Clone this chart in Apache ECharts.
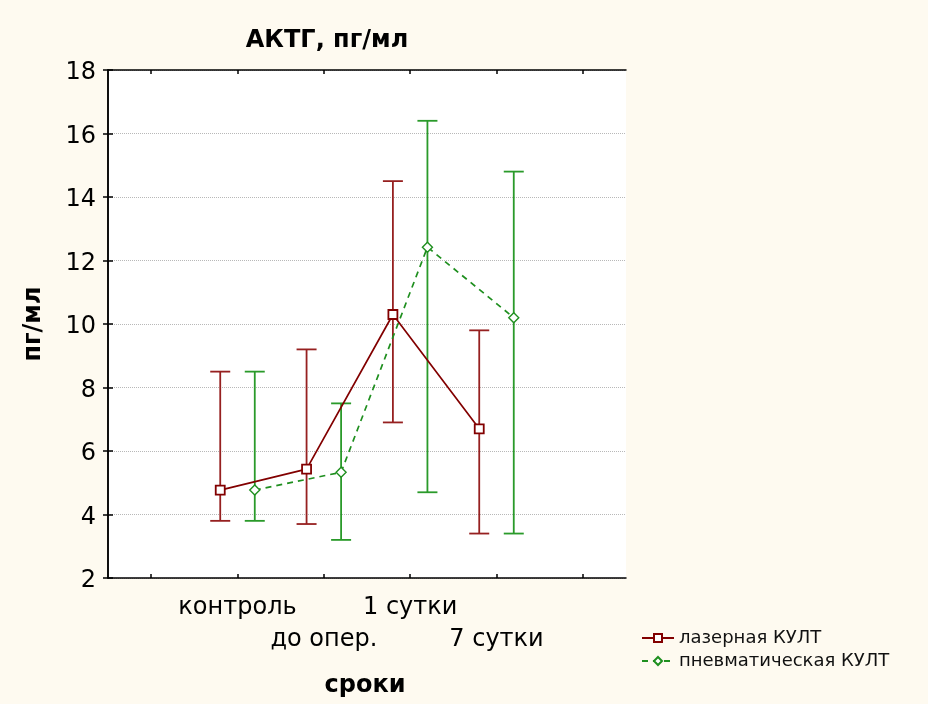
<!DOCTYPE html>
<html>
<head>
<meta charset="utf-8">
<style>
  html, body { margin: 0; padding: 0; background: #fefaf0; }
  #chart { width: 928px; height: 704px; }
</style>
<script src="https://cdn.jsdelivr.net/npm/echarts@6/dist/echarts.min.js"></script>
</head>
<body>
<div id="chart"></div>
<script>
// Time points of the study
const categories = ['контроль', 'до опер.', '1 сутки', '7 сутки'];

// Laser group: mean with lower / upper whisker
const laserMean = [4.77, 5.43, 10.3, 6.7];
const laserLow  = [3.8, 3.7, 6.9, 3.4];
const laserHigh = [8.5, 9.2, 14.5, 9.8];

// Pneumatic group: mean with lower / upper whisker
const pneuMean = [4.77, 5.33, 12.42, 10.2];
const pneuLow  = [3.8, 3.2, 4.7, 3.4];
const pneuHigh = [8.5, 7.5, 16.4, 14.8];

const yTicks = [2, 4, 6, 8, 10, 12, 14, 16, 18];

const seriesNames = ['лазерная КУЛТ', 'пневматическая КУЛТ'];
const RED = '#820000';
const GREEN = '#1f8f1f';
const FONT = '"DejaVu Sans", "Liberation Sans", Arial, sans-serif';

// x position of a category: slots sit at 1.5, 2.5, ... on a 0..6 axis,
// each group drawn slightly left or right of its slot
const SHIFT = 0.2;
const xPos = (i, side) => 1.5 + i + side * SHIFT;

function errorData(means, lows, highs, side) {
  return means.map((m, i) => [xPos(i, side), lows[i], highs[i]]);
}

function errorRenderer(color) {
  return function (params, api) {
    const x = api.value(0);
    const lo = api.coord([x, api.value(1)]);
    const hi = api.coord([x, api.value(2)]);
    const half = 10;
    const style = { stroke: color, lineWidth: 1.8 };
    return {
      type: 'group',
      children: [
        { type: 'line', shape: { x1: lo[0], y1: lo[1], x2: hi[0], y2: hi[1] }, style },
        { type: 'line', shape: { x1: hi[0] - half, y1: hi[1], x2: hi[0] + half, y2: hi[1] }, style },
        { type: 'line', shape: { x1: lo[0] - half, y1: lo[1], x2: lo[0] + half, y2: lo[1] }, style }
      ]
    };
  };
}

const tickPositions = [0.5, 1.5, 2.5, 3.5, 4.5, 5.5];
// category labels alternate between two rows under the axis
const rowOnePositions = categories.map((c, i) => 1.5 + i).filter((v, i) => i % 2 === 0);
const rowTwoPositions = categories.map((c, i) => 1.5 + i).filter((v, i) => i % 2 === 1);
const categoryLabel = v => categories[Math.round(v - 1.5)];

const chart = echarts.init(document.getElementById('chart'));

const boxLine = { show: true, lineStyle: { color: '#000', width: 1.5 } };
const labelText = { fontFamily: FONT, fontSize: 24, color: '#000' };

chart.setOption({
  backgroundColor: '#fefaf0',
  animation: false,
  textStyle: { fontFamily: FONT },
  title: {
    text: 'АКТГ, пг/мл',
    left: 322,
    top: 24,
    textAlign: 'center',
    textStyle: { fontFamily: FONT, fontSize: 24, fontWeight: 'bold', color: '#000' }
  },
  legend: {
    orient: 'vertical',
    left: 636,
    top: 624,
    itemWidth: 32,
    itemHeight: 10,
    itemGap: 5,
    data: seriesNames,
    textStyle: { fontFamily: FONT, fontSize: 18, color: '#111' }
  },
  grid: {
    left: 108, top: 70, width: 518, height: 508,
    show: true, backgroundColor: '#ffffff', borderWidth: 0
  },
  xAxis: [
    {
      type: 'value', min: 0, max: 6,
      position: 'bottom',
      name: 'сроки',
      nameLocation: 'middle',
      nameGap: 96,
      nameTextStyle: { fontFamily: FONT, fontSize: 24, fontWeight: 'bold', color: '#000', padding: [0, 0, 0, -4] },
      axisLine: boxLine,
      axisTick: { show: true, inside: true, length: 4, customValues: tickPositions, lineStyle: { color: '#000', width: 1.5 } },
      axisLabel: Object.assign({
        customValues: rowOnePositions,
        margin: 18,
        formatter: categoryLabel
      }, labelText),
      splitLine: { show: false }
    },
    {
      type: 'value', min: 0, max: 6,
      position: 'bottom',
      axisLine: { show: false },
      axisTick: { show: false },
      axisLabel: Object.assign({
        customValues: rowTwoPositions,
        margin: 50,
        formatter: categoryLabel
      }, labelText),
      splitLine: { show: false }
    },
    {
      type: 'value', min: 0, max: 6,
      position: 'top',
      axisLine: boxLine,
      axisTick: { show: true, inside: true, length: 4, customValues: tickPositions, lineStyle: { color: '#000', width: 1.5 } },
      axisLabel: { show: false },
      splitLine: { show: false }
    }
  ],
  yAxis: [
    {
      type: 'value', min: 2, max: 18, interval: 2,
      name: 'пг/мл',
      nameLocation: 'middle',
      nameGap: 62,
      nameRotate: 90,
      nameTextStyle: { fontFamily: FONT, fontSize: 24, fontWeight: 'bold', color: '#000' },
      axisLine: boxLine,
      axisTick: { show: true, inside: true, length: 5, lineStyle: { color: '#000', width: 1.5 } },
      axisLabel: Object.assign({
        margin: 12,
        customValues: yTicks,
        formatter: v => '{n|' + v + '}',
        rich: { n: { fontFamily: FONT, fontSize: 24, color: '#000', padding: [6, 0, 0, 0] } }
      }, labelText),
      splitLine: { show: true, lineStyle: { color: '#b8b8b8', width: 1, type: [1, 1] } }
    },
    {
      type: 'value', min: 2, max: 18, interval: 2,
      position: 'right',
      axisLine: boxLine,
      axisTick: { show: true, inside: true, length: 5, lineStyle: { color: '#000', width: 1.5 } },
      axisLabel: { show: false },
      splitLine: { show: false }
    }
  ],
  series: [
    {
      type: 'custom',
      name: 'laser-range',
      xAxisIndex: 0, yAxisIndex: 0,
      renderItem: errorRenderer('#962020'),
      data: errorData(laserMean, laserLow, laserHigh, -1),
      z: 1, silent: true
    },
    {
      type: 'custom',
      name: 'pneu-range',
      xAxisIndex: 0, yAxisIndex: 0,
      renderItem: errorRenderer('#2a9a2a'),
      data: errorData(pneuMean, pneuLow, pneuHigh, 1),
      z: 1, silent: true
    },
    {
      type: 'line',
      name: seriesNames[0],
      xAxisIndex: 0, yAxisIndex: 0,
      data: laserMean.map((m, i) => [xPos(i, -1), m]),
      symbol: 'rect',
      symbolSize: 9,
      showAllSymbol: true,
      lineStyle: { color: RED, width: 1.7 },
      itemStyle: { color: '#ffffff', borderColor: RED, borderWidth: 1.8 },
      z: 3
    },
    {
      type: 'line',
      name: seriesNames[1],
      xAxisIndex: 0, yAxisIndex: 0,
      data: pneuMean.map((m, i) => [xPos(i, 1), m]),
      symbol: 'diamond',
      symbolSize: 10,
      showAllSymbol: true,
      lineStyle: { color: GREEN, width: 1.7, type: [6, 5] },
      itemStyle: { color: '#ffffff', borderColor: GREEN, borderWidth: 1.4 },
      z: 2
    }
  ]
});
</script>
</body>
</html>
